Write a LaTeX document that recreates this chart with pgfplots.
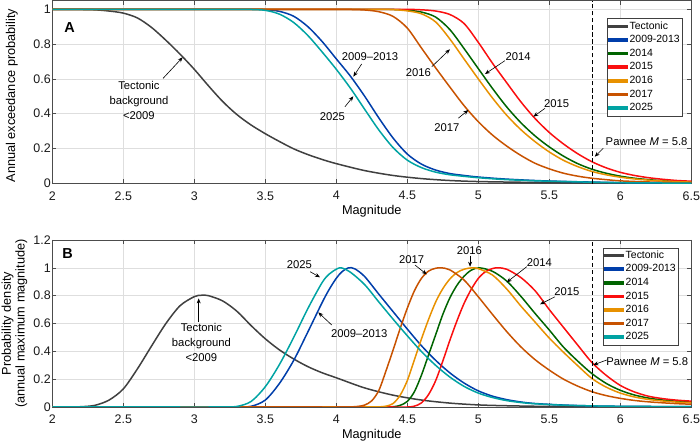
\documentclass[border=0pt]{standalone}
\usepackage{fontspec}
\setmainfont{Liberation Sans}
\usepackage{pgfplots}
\pgfplotsset{compat=1.18}
\usetikzlibrary{arrows.meta}
\definecolor{ctect}{RGB}{64,64,64}
\definecolor{cblue}{RGB}{0,62,170}
\definecolor{cgreen}{RGB}{0,100,0}
\definecolor{cred}{RGB}{250,15,15}
\definecolor{corange}{RGB}{232,145,0}
\definecolor{cbrown}{RGB}{200,82,0}
\definecolor{cteal}{RGB}{0,163,163}
\tikzset{
  ann/.style={font=\fontsize{11.3}{15}\selectfont, align=center, inner sep=0pt, text=black},
  arr/.style={-{Stealth[length=5bp,width=4bp]}, line width=0.6bp, black},
  lett/.style={font=\fontsize{14.5}{15}\selectfont\bfseries, inner sep=0pt},
}
\pgfplotsset{
  panel/.style={
    scale only axis, width=639bp,
    xmin=2, xmax=6.5,
    xtick={2,2.5,3,3.5,4,4.5,5,5.5,6,6.5},
    grid=major,
    major grid style={black!13, line width=0.4bp},
    axis line style={black!70, line width=0.5bp},
    tick style={black!70, line width=0.5bp},
    tick align=inside,
    major tick length=4bp,
    ticklabel style={font=\fontsize{12.5}{14}\selectfont, text=black!90},
    /pgf/number format/assume math mode=true,
    xticklabel style={yshift=-4.5bp},
    yticklabel style={xshift=2bp},
    label style={font=\fontsize{12.8}{13.8}\selectfont},
    xlabel style={at={(axis description cs:0.5,0)}, anchor=center, yshift=-28.4bp},
    xlabel={Magnitude},
    clip mode=individual,
    every axis plot/.append style={line width=1.5bp, smooth, tension=0.5},
    legend image code/.code={\fill[#1] (0bp,-1bp) rectangle (19bp,1bp);},
    legend cell align=left,
    legend style={font=\fontsize{10.5}{12}\selectfont, draw=black!75, line width=0.5bp,
      fill=white, inner sep=1bp, row sep=0pt,
      nodes={inner xsep=1.2bp, inner ysep=1.5bp, text height=8.1bp, text depth=2.5bp}},
    legend entries={Tectonic,2009-2013,2014,2015,2016,2017,2025},
  },
}
\begin{document}
\begin{tikzpicture}
\path[use as bounding box] (0,0) rectangle (700bp,444bp);
% ---------------- Panel A ----------------
\begin{axis}[panel,
  at={(52.3bp,260.7bp)}, anchor=south west,
  height=182.7bp, ymin=0, ymax=1.05,
  ytick={0,0.2,0.4,0.6,0.8,1},
  ylabel={Annual exceedance probability},
  ylabel style={at={(axis description cs:-0.0635,0.48)}, anchor=center},
  legend style={at={(rel axis cs:0.8676,0.903)}, anchor=north west},
]
\addplot[color=ctect] coordinates {(2.0,1) (2.2,0.999) (2.3,0.997) (2.4,0.99) (2.5,0.978) (2.6,0.95) (2.7,0.895) (2.8,0.822) (2.9,0.742) (3.0,0.655) (3.1,0.56) (3.2,0.47) (3.3,0.395) (3.4,0.335) (3.5,0.285) (3.6,0.24) (3.7,0.198) (3.8,0.165) (3.9,0.137) (4.0,0.113) (4.2,0.073) (4.4,0.045) (4.6,0.027) (4.8,0.016) (5.0,0.01) (5.3,0.006) (5.6,0.003) (6.0,0.0015) (6.5,0.0005)};
\addplot[color=cblue] coordinates {(2.0,1) (2.8,1) (3.2,1) (3.4,1) (3.5,0.998) (3.6,0.988) (3.7,0.96) (3.8,0.9) (3.9,0.815) (4.0,0.715) (4.1,0.615) (4.2,0.5) (4.3,0.375) (4.4,0.26) (4.5,0.168) (4.6,0.11) (4.7,0.076) (4.8,0.056) (4.9,0.045) (5.0,0.036) (5.2,0.024) (5.5,0.013) (6.0,0.004) (6.5,0.001)};
\addplot[color=cgreen] coordinates {(2.0,1) (3.2,1) (3.8,1) (4.1,1) (4.3,1) (4.4,0.999) (4.5,0.995) (4.6,0.984) (4.7,0.955) (4.8,0.883) (4.9,0.774) (5.0,0.659) (5.1,0.545) (5.2,0.439) (5.3,0.348) (5.4,0.272) (5.5,0.209) (5.6,0.156) (5.7,0.113) (5.8,0.081) (5.9,0.058) (6.0,0.041) (6.1,0.029) (6.2,0.021) (6.3,0.0148) (6.4,0.0108) (6.5,0.008)};
\addplot[color=cred] coordinates {(2.0,1) (3.2,1) (3.8,1) (4.2,1) (4.4,1) (4.5,1) (4.6,0.997) (4.7,0.99) (4.8,0.97) (4.9,0.918) (5.0,0.81) (5.1,0.69) (5.2,0.578) (5.3,0.468) (5.4,0.372) (5.5,0.292) (5.6,0.226) (5.7,0.17) (5.8,0.124) (5.9,0.089) (6.0,0.063) (6.1,0.045) (6.2,0.032) (6.3,0.023) (6.4,0.016) (6.5,0.012)};
\addplot[color=corange] coordinates {(2.0,1) (3.0,1) (3.6,1) (4.0,1) (4.2,1) (4.3,1) (4.4,0.998) (4.5,0.991) (4.6,0.974) (4.7,0.927) (4.8,0.829) (4.9,0.714) (5.0,0.6) (5.1,0.49) (5.2,0.391) (5.3,0.308) (5.4,0.239) (5.5,0.18) (5.6,0.132) (5.7,0.096) (5.8,0.068) (5.9,0.049) (6.0,0.035) (6.1,0.025) (6.2,0.018) (6.3,0.013) (6.4,0.0093) (6.5,0.007)};
\addplot[color=cbrown] coordinates {(2.0,1) (2.8,1) (3.4,1) (3.8,1) (4.0,1) (4.1,0.999) (4.2,0.996) (4.3,0.986) (4.4,0.959) (4.5,0.892) (4.6,0.777) (4.7,0.663) (4.8,0.553) (4.9,0.446) (5.0,0.354) (5.1,0.277) (5.2,0.214) (5.3,0.16) (5.4,0.115) (5.5,0.083) (5.6,0.058) (5.7,0.041) (5.8,0.029) (5.9,0.021) (6.0,0.014) (6.2,0.0076) (6.4,0.004) (6.5,0.003)};
\addplot[color=cteal] coordinates {(2.0,1) (2.7,1) (3.1,1) (3.3,1) (3.4,0.999) (3.5,0.994) (3.6,0.972) (3.7,0.924) (3.8,0.849) (3.9,0.755) (4.0,0.655) (4.1,0.546) (4.2,0.425) (4.3,0.306) (4.4,0.205) (4.5,0.133) (4.6,0.09) (4.7,0.064) (4.8,0.049) (4.9,0.04) (5.0,0.032) (5.2,0.021) (5.5,0.012) (6.0,0.0035) (6.5,0.001)};
\addplot[black, line width=0.8bp, dash pattern=on 4bp off 3bp, forget plot] coordinates {(5.8,0) (5.8,1.05)};
\node[lett] at (axis cs:2.1225,0.894) {A};
\node[ann] at (axis cs:2.61,0.475) {Tectonic\\background\\<2009};
\draw[arr] (axis cs:2.78,0.603) -- (axis cs:2.918,0.724);
\node[ann] at (axis cs:4.238,0.728) {2009--2013};
\draw[arr] (axis cs:4.179,0.686) -- (axis cs:4.12,0.613);
\node[ann] at (axis cs:3.972,0.383) {2025};
\draw[arr] (axis cs:4.061,0.44) -- (axis cs:4.12,0.5);
\node[ann] at (axis cs:4.578,0.636) {2016};
\draw[arr] (axis cs:4.672,0.67) -- (axis cs:4.80,0.77);
\node[ann] at (axis cs:5.28,0.728) {2014};
\draw[arr] (axis cs:5.188,0.705) -- (axis cs:5.047,0.628);
\node[ann] at (axis cs:5.552,0.456) {2015};
\draw[arr] (axis cs:5.47,0.431) -- (axis cs:5.388,0.383);
\node[ann] at (axis cs:4.778,0.32) {2017};
\draw[arr] (axis cs:4.859,0.374) -- (axis cs:4.93,0.421);
\node[ann] at (axis cs:6.185,0.239) {Pawnee \textit{M} = 5.8};
\draw[arr] (axis cs:5.88,0.201) -- (axis cs:5.82,0.153);
\end{axis}
% ---------------- Panel B ----------------
\begin{axis}[panel,
  at={(52.3bp,37bp)}, anchor=south west,
  height=167bp, ymin=0, ymax=1.2,
  ytick={0,0.2,0.4,0.6,0.8,1,1.2},
  ylabel={Probability density\\(annual maximum magnitude)},
  ylabel style={at={(axis description cs:-0.0593,0.5)}, anchor=center, align=center},
  legend style={at={(rel axis cs:0.8614,0.955)}, anchor=north west},
]
\addplot[color=ctect] coordinates {(2.0,0) (2.1,0.0003) (2.2,0.002) (2.3,0.012) (2.4,0.05) (2.5,0.13) (2.6,0.275) (2.7,0.44) (2.8,0.6) (2.9,0.728) (3.0,0.793) (3.05,0.803) (3.1,0.8) (3.2,0.762) (3.3,0.688) (3.4,0.585) (3.5,0.49) (3.6,0.41) (3.7,0.345) (3.8,0.29) (3.9,0.246) (4.0,0.21) (4.2,0.137) (4.4,0.085) (4.6,0.05) (4.8,0.028) (5.0,0.015) (5.2,0.009) (5.5,0.004) (6.0,0.001) (6.5,0.0003)};
\addplot[color=cblue] coordinates {(2.0,0) (2.6,0) (3.0,0) (3.2,0) (3.3,0.0005) (3.4,0.005) (3.5,0.05) (3.6,0.17) (3.7,0.335) (3.8,0.54) (3.9,0.75) (3.95,0.845) (4.0,0.925) (4.04,0.972) (4.085,1.0) (4.13,0.993) (4.2,0.937) (4.3,0.81) (4.4,0.685) (4.5,0.56) (4.6,0.44) (4.7,0.335) (4.8,0.245) (4.9,0.172) (5.0,0.116) (5.1,0.078) (5.2,0.053) (5.3,0.036) (5.4,0.025) (5.6,0.014) (5.8,0.008) (6.0,0.005) (6.5,0.002)};
\addplot[color=cgreen] coordinates {(2.0,0) (3.0,0) (3.6,0) (4.0,0) (4.2,0) (4.3,0) (4.4,0.002) (4.45,0.012) (4.5,0.04) (4.55,0.11) (4.6,0.23) (4.65,0.375) (4.7,0.52) (4.75,0.665) (4.8,0.785) (4.85,0.875) (4.9,0.94) (4.95,0.983) (5.007,1.0) (5.1,0.975) (5.2,0.905) (5.3,0.795) (5.4,0.672) (5.5,0.553) (5.6,0.43) (5.7,0.33) (5.8,0.24) (5.9,0.17) (6.0,0.12) (6.1,0.086) (6.2,0.064) (6.3,0.05) (6.4,0.041) (6.5,0.035)};
\addplot[color=cred] coordinates {(2.0,0) (3.0,0) (3.8,0) (4.2,0) (4.4,0) (4.5,0) (4.55,0.006) (4.6,0.03) (4.65,0.09) (4.7,0.19) (4.75,0.33) (4.8,0.48) (4.85,0.62) (4.9,0.745) (4.95,0.845) (5.0,0.924) (5.05,0.972) (5.1,0.995) (5.14,1.0) (5.2,0.99) (5.3,0.93) (5.4,0.835) (5.5,0.7) (5.6,0.572) (5.7,0.445) (5.8,0.32) (5.9,0.228) (6.0,0.155) (6.1,0.108) (6.2,0.077) (6.3,0.06) (6.4,0.049) (6.5,0.042)};
\addplot[color=corange] coordinates {(2.0,0) (3.0,0) (3.6,0) (3.9,0) (4.1,0) (4.2,0) (4.3,0.001) (4.35,0.006) (4.4,0.025) (4.45,0.085) (4.5,0.19) (4.55,0.34) (4.6,0.49) (4.65,0.63) (4.7,0.755) (4.75,0.85) (4.8,0.92) (4.85,0.966) (4.9,0.99) (4.955,1.0) (5.0,0.994) (5.1,0.948) (5.2,0.848) (5.3,0.725) (5.4,0.61) (5.5,0.495) (5.6,0.393) (5.7,0.297) (5.8,0.205) (5.9,0.143) (6.0,0.1) (6.1,0.072) (6.2,0.054) (6.3,0.043) (6.4,0.035) (6.5,0.03)};
\addplot[color=cbrown] coordinates {(2.0,0) (2.8,0) (3.4,0) (3.7,0) (3.9,0) (4.0,0) (4.1,0.001) (4.15,0.004) (4.2,0.014) (4.25,0.045) (4.3,0.12) (4.35,0.26) (4.4,0.41) (4.45,0.565) (4.5,0.71) (4.55,0.835) (4.6,0.925) (4.65,0.977) (4.7,0.997) (4.742,1.0) (4.8,0.985) (4.9,0.912) (5.0,0.792) (5.1,0.665) (5.2,0.542) (5.3,0.432) (5.4,0.34) (5.5,0.265) (5.6,0.2) (5.7,0.15) (5.8,0.11) (5.9,0.082) (6.0,0.062) (6.1,0.047) (6.2,0.037) (6.3,0.03) (6.4,0.024) (6.5,0.02)};
\addplot[color=cteal] coordinates {(2.0,0) (2.6,0) (2.9,0) (3.1,0) (3.2,0.0005) (3.3,0.004) (3.4,0.04) (3.5,0.146) (3.6,0.306) (3.7,0.5) (3.8,0.708) (3.9,0.894) (3.95,0.955) (4.0,0.99) (4.035,1.0) (4.1,0.968) (4.2,0.879) (4.3,0.754) (4.4,0.631) (4.5,0.512) (4.6,0.398) (4.7,0.299) (4.8,0.215) (4.9,0.148) (5.0,0.1) (5.1,0.068) (5.2,0.046) (5.3,0.032) (5.4,0.023) (5.6,0.013) (5.8,0.008) (6.0,0.005) (6.5,0.002)};
\addplot[black, line width=0.8bp, dash pattern=on 4bp off 3bp, forget plot] coordinates {(5.8,0) (5.8,1.2)};
\node[lett] at (axis cs:2.107,1.106) {B};
\node[ann] at (axis cs:3.05,0.462) {Tectonic\\background\\<2009};
\draw[arr] (axis cs:3.031,0.613) -- (axis cs:3.031,0.78);
\node[ann] at (axis cs:3.74,1.025) {2025};
\draw[arr] (axis cs:3.816,0.972) -- (axis cs:3.885,0.932);
\node[ann] at (axis cs:4.162,0.529) {2009--2013};
\draw[arr] (axis cs:3.968,0.589) -- (axis cs:3.873,0.68);
\node[ann] at (axis cs:4.531,1.056) {2017};
\draw[arr] (axis cs:4.554,1.02) -- (axis cs:4.637,0.953);
\node[ann] at (axis cs:4.937,1.121) {2016};
\draw[arr] (axis cs:4.942,1.087) -- (axis cs:4.942,1.008);
\node[ann] at (axis cs:5.43,1.04) {2014};
\draw[arr] (axis cs:5.341,1.008) -- (axis cs:5.2,0.896);
\node[ann] at (axis cs:5.623,0.828) {2015};
\draw[arr] (axis cs:5.54,0.792) -- (axis cs:5.435,0.738);
\node[ann] at (axis cs:6.19,0.326) {Pawnee \textit{M} = 5.8};
\draw[arr] (axis cs:5.905,0.338) -- (axis cs:5.81,0.302);
\end{axis}
\end{tikzpicture}
\end{document}
